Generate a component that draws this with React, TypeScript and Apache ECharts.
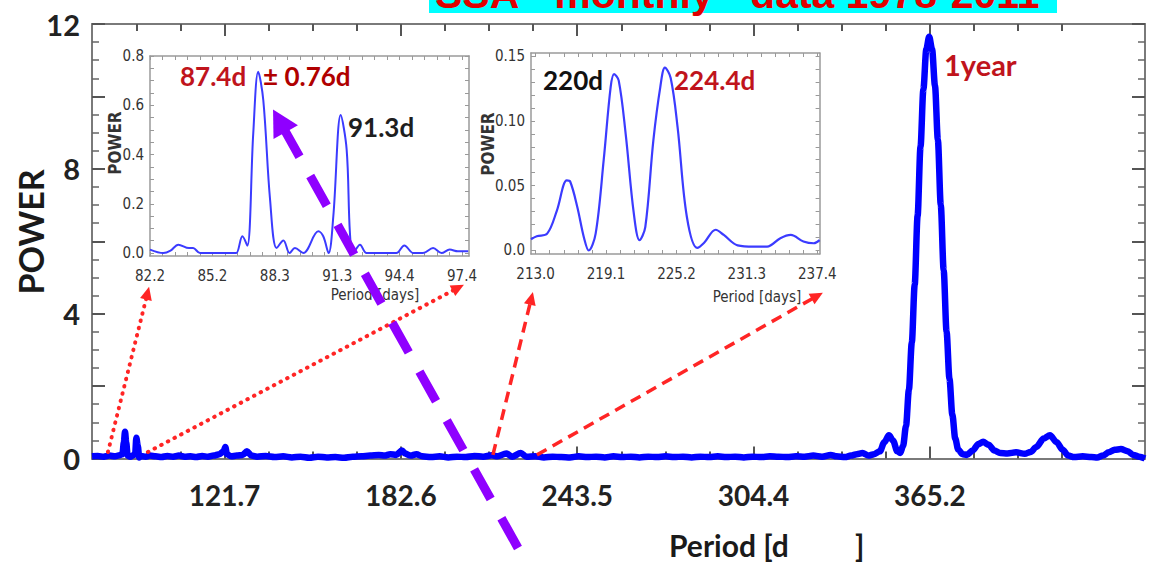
import React, { useEffect, useRef } from "react";
import * as echarts from "echarts";

// ---------- main periodogram ----------
const MAIN_PERIOD = [
  76, 78, 80, 82, 84, 85.5, 86.5, 87.0, 87.4, 87.8, 88.3, 89.2, 90.4, 90.9, 91.3, 91.8, 92.3, 93, 94.5, 96,
  98, 100, 102, 104, 106, 108, 110, 112, 114, 116, 118, 120, 121.5, 122, 122.6, 124, 126, 128, 129.5, 131,
  133, 136, 139, 142, 145, 148, 151, 154, 157, 160, 163, 166, 169, 172, 175, 177, 179, 181, 183, 184,
  186, 188, 190, 193, 196, 199, 202, 205, 208, 211, 214, 216, 219, 221, 224, 226, 229, 232, 235, 238,
  241, 244, 247, 250, 253, 256, 259, 262, 265, 268, 271, 274, 277, 280, 283, 286, 289, 292, 295, 298,
  301, 304, 307, 310, 313, 316, 319, 322, 325, 328, 331, 333, 336, 338, 340, 342, 344, 346, 348, 349.5,
  351.1, 352.5, 354, 355, 356, 357, 358, 359, 360, 361, 362, 363, 364, 365, 366, 367, 368, 369, 370, 371,
  372, 373, 374, 375, 376.5, 378, 380, 382, 383.6, 385.5, 387.5, 389.5, 392, 395, 398, 400, 402, 404.5, 406.7, 409,
  411, 413, 415, 418, 421, 423, 425, 427, 429, 431.2, 433.5, 435.5, 437.5, 439.5,
];
const MAIN_POWER = [
  0.06, 0.07, 0.05, 0.08, 0.06, 0.09, 0.12, 0.45, 0.74, 0.45, 0.08, 0.05, 0.1, 0.12, 0.57, 0.35, 0.03, 0.07, 0.05, 0.08,
  0.06, 0.04, 0.07, 0.05, 0.08, 0.05, 0.06, 0.04, 0.07, 0.05, 0.08, 0.12, 0.2, 0.32, 0.12, 0.06, 0.08, 0.1, 0.2, 0.08,
  0.05, 0.07, 0.04, 0.06, 0.03, 0.05, 0.02, 0.05, 0.03, 0.04, 0.02, 0.05, 0.06, 0.08, 0.1, 0.08, 0.12, 0.1, 0.22, 0.14,
  0.08, 0.12, 0.06, 0.04, 0.06, 0.03, 0.05, 0.04, 0.07, 0.05, 0.09, 0.06, 0.14, 0.05, 0.15, 0.05, 0.06, 0.03, 0.05, 0.04,
  0.03, 0.06, 0.04, 0.05, 0.03, 0.06, 0.04, 0.05, 0.03, 0.05, 0.04, 0.06, 0.04, 0.05, 0.03, 0.05, 0.04, 0.06, 0.04, 0.05,
  0.03, 0.05, 0.04, 0.06, 0.05, 0.04, 0.06, 0.05, 0.08, 0.05, 0.1, 0.06, 0.04, 0.08, 0.12, 0.15, 0.08, 0.12, 0.2, 0.45,
  0.64, 0.5, 0.2, 0.15, 0.35, 0.9, 1.9, 3.2, 4.8, 6.7, 8.6, 10.2, 11.3, 11.65, 11.3, 10.3, 8.8, 7.0, 5.2, 3.5,
  2.2, 1.2, 0.55, 0.25, 0.12, 0.1, 0.22, 0.4, 0.46, 0.38, 0.22, 0.15, 0.14, 0.17, 0.13, 0.18, 0.32, 0.55, 0.64, 0.45,
  0.25, 0.08, 0.04, 0.06, 0.04, 0.03, 0.08, 0.17, 0.24, 0.26, 0.2, 0.1, 0.05, 0.0,
];
const MAIN_X_TICK_VALUES = [121.75, 182.625, 243.5, 304.375, 365.25];
const MAIN_X_TICK_LABELS = ["121.7", "182.6", "243.5", "304.4", "365.2"];
const MAIN_X_MINOR_STEP = 365.25 / 24;
const MAIN_Y_LABELS = [0, 4, 8, 12];

// ---------- inset 1 (82–97 days) ----------
const INSET1_PERIOD = [
  82.2, 82.85, 83.2, 83.58, 84.1, 84.3, 84.64, 85.45, 86.2, 86.4, 86.7, 86.94, 87.23, 87.47, 87.72, 88.05, 88.37,
  88.7, 89.0, 89.26, 89.67, 90.4, 90.64, 90.9, 91.13, 91.49, 91.78, 91.94, 92.1, 92.43, 92.75, 93.56, 94.2, 94.59,
  95.03, 95.5, 95.99, 96.4, 96.8, 97.2, 97.7,
];
const INSET1_POWER = [
  0.014, 0.0, 0.01, 0.034, 0.02, 0.02, 0.0, 0.0, 0.0, 0.0, 0.068, 0.03, 0.486, 0.736, 0.62, 0.216, 0.02,
  0.051, 0.0, 0.02, 0.0, 0.088, 0.068, 0.0, 0.149, 0.56, 0.42, 0.081, 0.0, 0.034, 0.0, 0.0, 0.0, 0.031,
  0.0, 0.0, 0.02, 0.0, 0.014, 0.007, 0.007,
];
const INSET1_X_TICK_VALUES = [82.2, 85.24, 88.28, 91.32, 94.36, 97.4];
const INSET1_X_TICK_LABELS = ["82.2", "85.2", "88.3", "91.3", "94.4", "97.4"];
const INSET1_Y_TICK_VALUES = [0, 0.2, 0.4, 0.6, 0.8];
const INSET1_Y_TICK_LABELS = ["0.0", "0.2", "0.4", "0.6", "0.8"];

// ---------- inset 2 (213–237 days) ----------
const INSET2_PERIOD = [
  212.6, 213.1, 214.0, 214.85, 215.7, 216.0, 216.6, 217.2, 217.6, 218.2, 218.9, 219.5, 219.8, 220.2, 220.8, 221.5,
  222.0, 222.5, 223.2, 223.8, 224.2, 224.7, 225.3, 226.1, 227.0, 227.6, 228.6, 229.3, 230.5, 231.9, 233.05, 234.2,
  235.1, 236.2, 237.1, 237.6,
];
const INSET2_POWER = [
  0.0087, 0.011, 0.013, 0.031, 0.054, 0.053, 0.034, 0.0095, 0.0, 0.013, 0.07, 0.126, 0.136, 0.131, 0.09, 0.029,
  0.008, 0.018, 0.085, 0.126, 0.141, 0.133, 0.095, 0.026, 0.002, 0.006, 0.016, 0.012, 0.004, 0.003, 0.003, 0.0095,
  0.012, 0.007, 0.0056, 0.008,
];
const INSET2_X_TICK_VALUES = [213.0, 219.1, 225.2, 231.3, 237.4];
const INSET2_X_TICK_LABELS = ["213.0", "219.1", "225.2", "231.3", "237.4"];
const INSET2_Y_TICK_VALUES = [0, 0.05, 0.1, 0.15];
const INSET2_Y_TICK_LABELS = ["0.0", "0.05", "0.10", "0.15"];

// ---------- annotation arrows (in main-chart data coordinates) ----------
const ARROWS = [
  { from: [81.5, 0.18], to: [95.7, 4.74], kind: "dotted" },
  { from: [95.3, 0.18], to: [204.4, 4.8], kind: "dotted" },
  { from: [214.4, 0.1], to: [228.2, 4.6], kind: "dashed" },
  { from: [229.6, 0.1], to: [328.3, 4.58], kind: "dashed" },
  { from: [223.05, -2.47], to: [138.5, 9.64], kind: "purple" },
];

const BOLD_FONT = "Lato, 'Open Sans', sans-serif";
const NARROW_FONT = "'Liberation Sans Narrow', 'DejaVu Sans Condensed', sans-serif";

function pairs(xs: number[], ys: number[]) {
  return xs.map((x, i) => [x, ys[i]]);
}
function steps(start: number, end: number, step: number) {
  const out: number[] = [];
  for (let v = start; v <= end + 1e-9; v += step) out.push(+v.toFixed(4));
  return out;
}
function labelFrom(values: number[], labels: string[]) {
  return (v: number) => {
    const i = values.findIndex((t) => Math.abs(t - v) < 1e-3);
    return i >= 0 ? labels[i] : "";
  };
}

const MAIN_X_MAJOR_TICKS = MAIN_X_TICK_VALUES;
const MAIN_X_MINOR_TICKS = (() => {
  const out: number[] = [];
  for (let k = 6; k <= 28; k++) if (k % 4 !== 0) out.push(k * MAIN_X_MINOR_STEP);
  return out;
})();

const AXIS_GRAY = "#7a7a7a";
const INSET_GRAY = "#9a9a9a";

function mainX(position: string, ticks: number[], len: number, withLabels: boolean, line: boolean) {
  return {
    type: "value",
    gridIndex: 0,
    min: 76,
    max: 439.5,
    position,
    axisLine: { show: line, onZero: false, lineStyle: { color: AXIS_GRAY, width: 2 } },
    axisTick: { show: true, inside: true, length: len, customValues: ticks, lineStyle: { color: "#555", width: 2 } },
    axisLabel: withLabels
      ? {
          show: true,
          customValues: MAIN_X_TICK_VALUES,
          formatter: labelFrom(MAIN_X_TICK_VALUES, MAIN_X_TICK_LABELS),
          fontFamily: BOLD_FONT,
          fontWeight: "bold",
          fontSize: 28,
          color: "#222",
          margin: 22,
        }
      : { show: false },
    splitLine: { show: false },
  };
}

function mainY(position: string, withLabels: boolean) {
  return {
    type: "value",
    gridIndex: 0,
    min: 0,
    max: 12,
    interval: 2,
    position,
    axisLine: { show: true, onZero: false, lineStyle: { color: AXIS_GRAY, width: 2 } },
    axisTick: { show: true, inside: true, length: 13, lineStyle: { color: "#555", width: 2 } },
    minorTick: { show: true, splitNumber: 4, length: 7, lineStyle: { color: "#666", width: 1.5 } },
    axisLabel: withLabels
      ? {
          show: true,
          customValues: MAIN_Y_LABELS,
          formatter: (v: number) => String(v),
          fontFamily: BOLD_FONT,
          fontWeight: "bold",
          fontSize: 29,
          color: "#222",
          margin: 12,
          padding: [0, 0, 8, 0],
        }
      : { show: false },
    splitLine: { show: false },
    minorSplitLine: { show: false },
  };
}

function insetX(grid: number, min: number, max: number, position: string, ticks: number[], vals: number[] | null, labels: string[] | null) {
  return {
    type: "value",
    gridIndex: grid,
    min,
    max,
    position,
    axisLine: { show: true, onZero: false, lineStyle: { color: INSET_GRAY, width: 1.5 } },
    axisTick: { show: true, inside: true, length: 4, customValues: ticks, lineStyle: { color: "#999", width: 1 } },
    axisLabel: vals
      ? {
          show: true,
          customValues: vals,
          formatter: labelFrom(vals, labels as string[]),
          fontFamily: NARROW_FONT,
          fontSize: 15,
          color: "#333",
          margin: 12,
        }
      : { show: false },
    splitLine: { show: false },
  };
}

function insetY(grid: number, min: number, max: number, position: string, ticks: number[], vals: number[] | null, labels: string[] | null) {
  return {
    type: "value",
    gridIndex: grid,
    min,
    max,
    position,
    axisLine: { show: true, onZero: false, lineStyle: { color: INSET_GRAY, width: 1.5 } },
    axisTick: { show: true, inside: true, length: 4, customValues: ticks, lineStyle: { color: "#999", width: 1 } },
    axisLabel: vals
      ? {
          show: true,
          customValues: vals,
          formatter: labelFrom(vals, labels as string[]),
          fontFamily: NARROW_FONT,
          fontSize: 15,
          color: "#333",
          margin: 6,
        }
      : { show: false },
    splitLine: { show: false },
  };
}

function textEl(text: string, x: number, y: number, size: number, fill: string, opts: any = {}) {
  return {
    type: "text",
    x,
    y,
    z: 50,
    rotation: opts.rotation || 0,
    style: {
      text,
      fill,
      fontSize: size,
      fontWeight: opts.weight || "bold",
      fontFamily: opts.family || BOLD_FONT,
      align: opts.align || "left",
      verticalAlign: opts.vAlign || "middle",
    },
  };
}

export default function App() {
  const ref = useRef<HTMLDivElement>(null);

  useEffect(() => {
    if (!ref.current) return;
    const chart = echarts.init(ref.current, undefined, { renderer: "svg" });

    const inset1XTicks = steps(82.2, 97.7, 0.608);
    const inset1YTicks = steps(0, 0.8, 0.05);
    const inset2XTicks = steps(213.0, 237.6, 1.22);
    const inset2YTicks = steps(0, 0.15, 0.01);

    const option: any = {
      animation: false,
      backgroundColor: "#ffffff",
      grid: [
        { left: 92, top: 24, width: 1053, height: 434.5, outerBoundsMode: "none" },
        { left: 150, top: 56, width: 319, height: 200, outerBoundsMode: "none", show: true, backgroundColor: "#fff", borderWidth: 0 },
        { left: 531, top: 53, width: 288.6, height: 201, outerBoundsMode: "none", show: true, backgroundColor: "#fff", borderWidth: 0 },
      ],
      xAxis: [
        mainX("bottom", MAIN_X_MAJOR_TICKS, 12, true, true),
        mainX("bottom", MAIN_X_MINOR_TICKS, 7, false, false),
        mainX("top", MAIN_X_MAJOR_TICKS, 12, false, true),
        mainX("top", MAIN_X_MINOR_TICKS, 7, false, false),
        insetX(1, 82.2, 97.74, "bottom", inset1XTicks, INSET1_X_TICK_VALUES, INSET1_X_TICK_LABELS),
        insetX(1, 82.2, 97.74, "top", inset1XTicks, null, null),
        insetX(2, 212.6, 237.6, "bottom", inset2XTicks, INSET2_X_TICK_VALUES, INSET2_X_TICK_LABELS),
        insetX(2, 212.6, 237.6, "top", inset2XTicks, null, null),
      ],
      yAxis: [
        mainY("left", true),
        mainY("right", false),
        insetY(1, -0.012, 0.8, "left", inset1YTicks, INSET1_Y_TICK_VALUES, INSET1_Y_TICK_LABELS),
        insetY(1, -0.012, 0.8, "right", inset1YTicks, null, null),
        insetY(2, -0.0027, 0.1523, "left", inset2YTicks, INSET2_Y_TICK_VALUES, INSET2_Y_TICK_LABELS),
        insetY(2, -0.0027, 0.1523, "right", inset2YTicks, null, null),
      ],
      series: [
        {
          type: "line",
          xAxisIndex: 0,
          yAxisIndex: 0,
          data: pairs(MAIN_PERIOD, MAIN_POWER),
          showSymbol: false,
          smooth: 0.3,
          smoothMonotone: "x",
          lineStyle: { color: "#0000ff", width: 6.5 },
          z: 5,
        },
        {
          type: "line",
          xAxisIndex: 4,
          yAxisIndex: 2,
          data: pairs(INSET1_PERIOD, INSET1_POWER),
          showSymbol: false,
          smooth: 0.35,
          lineStyle: { color: "#3b3bff", width: 2 },
          z: 10,
        },
        {
          type: "line",
          xAxisIndex: 6,
          yAxisIndex: 4,
          data: pairs(INSET2_PERIOD, INSET2_POWER),
          showSymbol: false,
          smooth: 0.35,
          lineStyle: { color: "#3b3bff", width: 2.2 },
          z: 10,
        },
      ],
    };
    chart.setOption(option);

    // Build annotation graphics from data coordinates
    const graphics: any[] = [];
    graphics.push({ type: "rect", shape: { x: 429, y: 0, width: 628, height: 13 }, style: { fill: "#00ffff" }, z: 40 });
    graphics.push({
      type: "text",
      x: 435,
      y: 14,
      z: 41,
      style: {
        text: "SSA - monthly - data 1978-2011",
        fill: "#e00000",
        fontSize: 41,
        fontWeight: "bold",
        fontFamily: "'Liberation Sans', Arial, sans-serif",
        align: "left",
        verticalAlign: "bottom",
      },
    });

    for (const a of ARROWS) {
      const p0 = chart.convertToPixel({ seriesIndex: 0 }, a.from) as number[];
      const p1 = chart.convertToPixel({ seriesIndex: 0 }, a.to) as number[];
      const dx = p1[0] - p0[0];
      const dy = p1[1] - p0[1];
      const len = Math.hypot(dx, dy);
      const ux = dx / len;
      const uy = dy / len;
      let color = "#ff2525";
      let width = 3.5;
      let dash: number[] = [11, 7];
      let cap = "butt";
      let hl = 13;
      let hw = 12;
      if (a.kind === "dotted") {
        dash = [0.5, 7];
        cap = "round";
        width = 4;
      } else if (a.kind === "purple") {
        color = "#8f00ff";
        width = 9;
        dash = [34, 22];
        hl = 26;
        hw = 28;
      }
      const bx = p1[0] - ux * hl;
      const by = p1[1] - uy * hl;
      graphics.push({
        type: "line",
        z: 60,
        shape: { x1: p0[0], y1: p0[1], x2: bx + ux * 2, y2: by + uy * 2 },
        style: { stroke: color, lineWidth: width, lineDash: dash, lineCap: cap },
      });
      graphics.push({
        type: "polygon",
        z: 60,
        shape: {
          points: [
            [p1[0], p1[1]],
            [bx - (uy * hw) / 2, by + (ux * hw) / 2],
            [bx + (uy * hw) / 2, by - (ux * hw) / 2],
          ],
        },
        style: { fill: color },
      });
    }

    graphics.push(textEl("87.4d", 180, 76, 26, "#c0141c"));
    graphics.push(textEl("± 0.76d", 263, 76, 26, "#b00000"));
    graphics.push(textEl("91.3d", 348, 127, 26, "#1e1e1e"));
    graphics.push(textEl("220d", 543, 80, 26, "#111111"));
    graphics.push(textEl("224.4d", 674, 80, 26, "#c0141c"));
    graphics.push(textEl("1year", 944, 64, 29, "#c0141c"));
    graphics.push(textEl("POWER", 30, 232, 34, "#1a1a1a", { rotation: Math.PI / 2, align: "center" }));
    graphics.push(textEl("Period [d", 669, 545, 30, "#1a1a1a"));
    graphics.push(textEl("]", 855, 545, 30, "#1a1a1a"));
    graphics.push(textEl("POWER", 115, 143, 17, "#333", { rotation: Math.PI / 2, align: "center", family: NARROW_FONT }));
    graphics.push(textEl("POWER", 488, 144, 17, "#333", { rotation: Math.PI / 2, align: "center", family: NARROW_FONT }));
    graphics.push(textEl("Period [days]", 375, 295, 15, "#333", { align: "center", family: NARROW_FONT, weight: "normal" }));
    graphics.push(textEl("Period [days]", 757, 297, 15, "#333", { align: "center", family: NARROW_FONT, weight: "normal" }));

    chart.setOption({ graphic: graphics });

    return () => chart.dispose();
  }, []);

  return (
    <div
      ref={ref}
      style={{ position: "absolute", left: 0, top: 0, width: "1153px", height: "563px", background: "#fff" }}
    />
  );
}
